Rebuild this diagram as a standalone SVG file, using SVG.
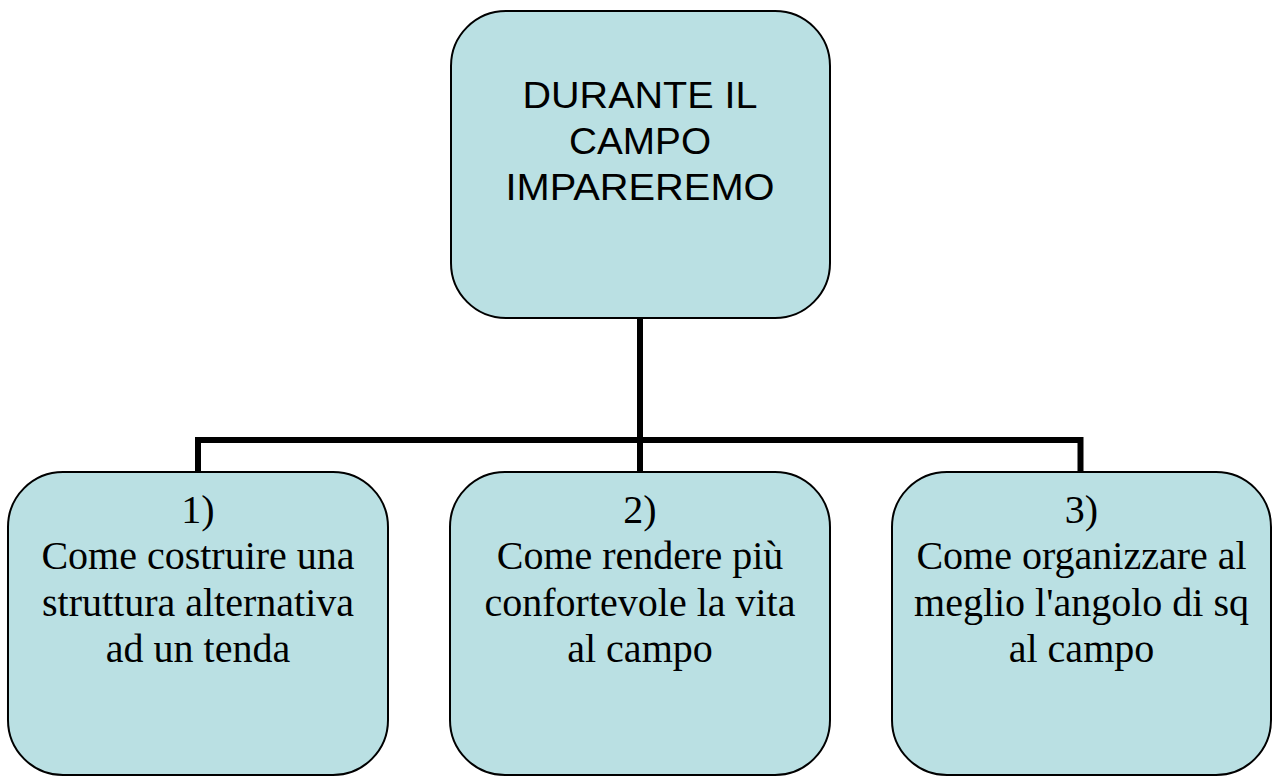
<svg xmlns="http://www.w3.org/2000/svg" width="1273" height="776" viewBox="0 0 1273 776">
<style>
.box{fill:#BAE0E3;stroke:#000;stroke-width:2}
.conn{fill:none;stroke:#000;stroke-width:6;stroke-linejoin:miter}
.t1{font-family:"Liberation Sans",Arial,sans-serif;font-size:37.5px;fill:#000;text-anchor:middle}
.t2{font-family:"Liberation Serif","Times New Roman",serif;font-size:40px;fill:#000;text-anchor:middle}
</style>
<rect width="1273" height="776" fill="#fff"/>
<g id="connectors">
<path class="conn" d="M640 318 V440"/>
<path class="conn" d="M198 472 V440 H1080.5 V472"/>
<path class="conn" d="M640 440 V472"/>
</g>
<g id="top">
<rect class="box" x="451" y="11" width="379" height="307" rx="55" ry="55"/>
<text class="t1" x="640" y="108" textLength="235" lengthAdjust="spacingAndGlyphs">DURANTE IL</text>
<text class="t1" x="640" y="154" textLength="142" lengthAdjust="spacingAndGlyphs">CAMPO</text>
<text class="t1" x="640" y="200" textLength="269" lengthAdjust="spacingAndGlyphs">IMPAREREMO</text>
</g>
<g id="n1">
<rect class="box" x="8" y="472" width="380" height="303" rx="55" ry="55"/>
<text class="t2" x="198" y="523">1)</text>
<text class="t2" x="198" y="569">Come costruire una</text>
<text class="t2" x="198" y="616">struttura alternativa</text>
<text class="t2" x="198" y="662">ad un tenda</text>
</g>
<g id="n2">
<rect class="box" x="450" y="472" width="380" height="303" rx="55" ry="55"/>
<text class="t2" x="640" y="523">2)</text>
<text class="t2" x="640" y="569">Come rendere più</text>
<text class="t2" x="640" y="616">confortevole la vita</text>
<text class="t2" x="640" y="662">al campo</text>
</g>
<g id="n3">
<rect class="box" x="892" y="472" width="379" height="303" rx="55" ry="55"/>
<text class="t2" x="1081.5" y="523">3)</text>
<text class="t2" x="1081.5" y="569">Come organizzare al</text>
<text class="t2" x="1081.5" y="616">meglio l'angolo di sq</text>
<text class="t2" x="1081.5" y="662">al campo</text>
</g>
</svg>
